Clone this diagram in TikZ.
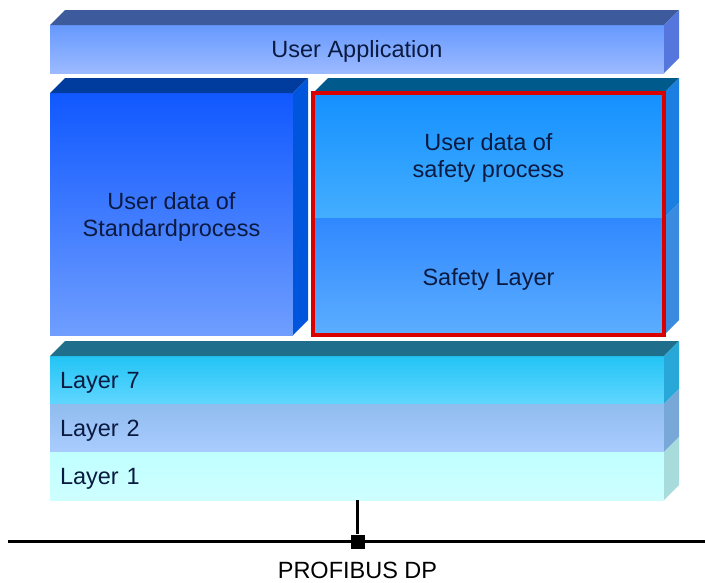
\documentclass[tikz,border=0pt]{standalone}
\usepackage{fontspec}
\setmainfont{Liberation Sans}

\definecolor{inktext}{HTML}{0A1A40}
\definecolor{apptop}{HTML}{3C5A9C}
\definecolor{appside}{HTML}{5577DD}
\definecolor{appA}{HTML}{6699FF}
\definecolor{appB}{HTML}{9CBAFF}
\definecolor{stdtop}{HTML}{003C9E}
\definecolor{stdside}{HTML}{0055DD}
\definecolor{stdA}{HTML}{1058FF}
\definecolor{stdB}{HTML}{6F9EFF}
\definecolor{safetop}{HTML}{005A8C}
\definecolor{safeside}{HTML}{1A7FE0}
\definecolor{safeA}{HTML}{1490FF}
\definecolor{safeB}{HTML}{44AEFF}
\definecolor{layside}{HTML}{3A8AE0}
\definecolor{layA}{HTML}{3088FF}
\definecolor{layB}{HTML}{5CAEFF}
\definecolor{ositop}{HTML}{1E6E8C}
\definecolor{sevenside}{HTML}{28A8D8}
\definecolor{sevenA}{HTML}{22C4F4}
\definecolor{sevenB}{HTML}{60D6FF}
\definecolor{twoside}{HTML}{78A8D8}
\definecolor{twoA}{HTML}{90BCEE}
\definecolor{twoB}{HTML}{AACCFF}
\definecolor{oneside}{HTML}{A8DCDC}
\definecolor{oneA}{HTML}{C0FFFF}
\definecolor{oneB}{HTML}{CEFFFF}

\begin{document}
\begin{tikzpicture}[x=1pt, y=-1pt,
    face/.style={inner sep=0pt, outer sep=0pt, minimum width=614pt, minimum height=48pt,
        text=inktext, text depth=0pt, align=center, font=\fontsize{23.5}{27}\selectfont},
    layerface/.style={face, text width=594pt, align=left}]
    \useasboundingbox (0,0) rectangle (705,582);

    \draw (357,49) node[face, top color=appA, bottom color=appB](app){User Application};

    \draw (171.5,214) node[face, minimum width=243pt, minimum height=242pt,
        top color=stdA, bottom color=stdB](std){User data of\\Standardprocess};

    \draw (488.5,155.5) node[face, minimum width=351pt, minimum height=125pt,
        top color=safeA, bottom color=safeB](safeusr){User data of\\safety process};
    \draw (488.5,276.5) node[face, minimum width=351pt, minimum height=117pt,
        top color=layA, bottom color=layB](safelay){Safety Layer};

    \draw (357,380) node[layerface, top color=sevenA, bottom color=sevenB](lay7){Layer 7};
    \draw (357,428) node[layerface, top color=twoA, bottom color=twoB](lay2){Layer 2};
    \draw (357,476) node[layerface, top color=oneA, bottom color=oneB](lay1){Layer 1};

    % top faces
    \foreach \n/\c in {app/apptop, std/stdtop, safeusr/safetop, lay7/ositop}
        \fill[\c] (\n.north west) -- ++(15,-15) -- ([shift={(15,-15)}]\n.north east)
            -- (\n.north east) -- cycle;

    % side faces
    \foreach \n/\c in {app/appside, std/stdside, safeusr/safeside, safelay/layside,
                       lay7/sevenside, lay2/twoside, lay1/oneside}
        \fill[\c] (\n.north east) -- ++(15,-15) -- ([shift={(15,-15)}]\n.south east)
            -- (\n.south east) -- cycle;

    \draw[red!85!black, line width=3.5pt] (safeusr.north west) rectangle (safelay.south east);

    % bus
    \coordinate (busL) at (8,541.5);
    \coordinate (busR) at (705,541.5);
    \draw[line width=3pt] (busL) -- (busR);
    \draw (357.5,541.5) node[fill=black, inner sep=0pt, minimum size=14pt](tap){};
    \draw[line width=3pt] (lay1.south -| tap) -- (tap.north);
    \draw (357.5,578) node[anchor=base, text=black, font=\fontsize{23.5}{27}\selectfont](bus){PROFIBUS DP};
\end{tikzpicture}
\end{document}
